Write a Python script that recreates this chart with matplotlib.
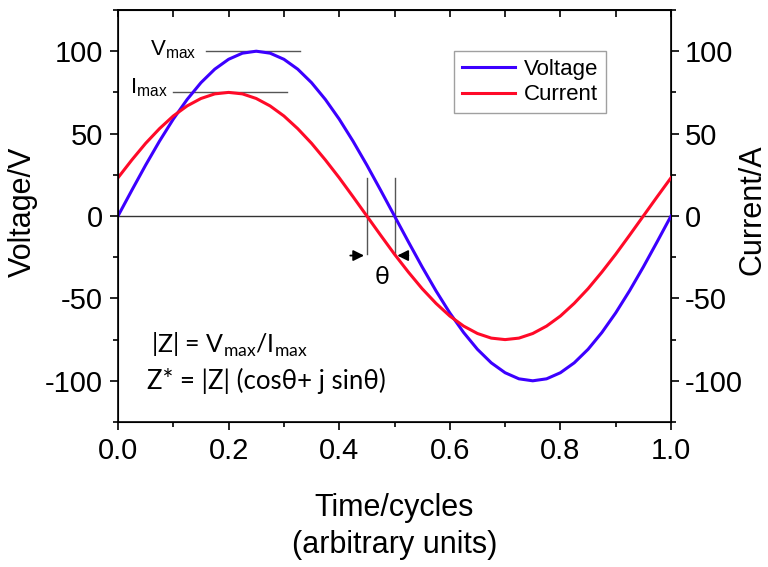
import matplotlib
matplotlib.use('Agg')
import matplotlib.pyplot as plt
from matplotlib.ticker import MultipleLocator

plt.rcParams['font.family'] = ['Liberation Sans', 'DejaVu Sans']
plt.rcParams['axes.unicode_minus'] = False
plt.rcParams['mathtext.fontset'] = 'custom'
plt.rcParams['mathtext.rm'] = 'Liberation Sans'
plt.rcParams['mathtext.sf'] = 'Lato'

# time in cycles, every 0.025
time = [0.0, 0.025, 0.05, 0.075, 0.1, 0.125, 0.15, 0.175, 0.2, 0.225,
        0.25, 0.275, 0.3, 0.325, 0.35, 0.375, 0.4, 0.425, 0.45, 0.475,
        0.5, 0.525, 0.55, 0.575, 0.6, 0.625, 0.65, 0.675, 0.7, 0.725,
        0.75, 0.775, 0.8, 0.825, 0.85, 0.875, 0.9, 0.925, 0.95, 0.975, 1.0]
voltage = [0, 15.6, 30.9, 45.4, 58.8, 70.7, 80.9, 89.1, 95.1, 98.8,
           100, 98.8, 95.1, 89.1, 80.9, 70.7, 58.8, 45.4, 30.9, 15.6,
           0, -15.6, -30.9, -45.4, -58.8, -70.7, -80.9, -89.1, -95.1, -98.8,
           -100, -98.8, -95.1, -89.1, -80.9, -70.7, -58.8, -45.4, -30.9, -15.6, 0]
current = [23.2, 34.0, 44.1, 53.0, 60.7, 66.8, 71.3, 74.1, 75, 74.1,
           71.3, 66.8, 60.7, 53.0, 44.1, 34.0, 23.2, 11.7, 0, -11.7,
           -23.2, -34.0, -44.1, -53.0, -60.7, -66.8, -71.3, -74.1, -75, -74.1,
           -71.3, -66.8, -60.7, -53.0, -44.1, -34.0, -23.2, -11.7, 0, 11.7, 23.2]

v_max = 100
i_max = 75
v_zero = 0.5
i_zero = 0.45

yticks = [-100, -50, 0, 50, 100]
xticks = [0.0, 0.2, 0.4, 0.6, 0.8, 1.0]

blue = '#3c00ff'
red = '#ff0a28'
grey = '#555555'
calibri_like = ['Lato', 'DejaVu Sans']

fig = plt.figure(figsize=(7.68, 5.67), dpi=100)
ax = fig.add_axes([118/768, 1 - 422/567, (671-118)/768, (422-10)/567])

ax.plot(time, voltage, color=blue, lw=2.2, label='Voltage', zorder=3)
ax.plot(time, current, color=red, lw=2.2, label='Current', zorder=3)
ax.axhline(0, color='#333333', lw=1.0, zorder=1)

# max markers
ax.plot([0.16, 0.33], [v_max, v_max], color=grey, lw=1.0)
ax.plot([0.10, 0.305], [i_max, i_max], color=grey, lw=1.0)
ax.text(0.058, v_max + 1, r'V$_{\mathrm{max}}$', fontsize=16, ha='left', va='center')
ax.text(0.022, i_max + 3, r'I$_{\mathrm{max}}$', fontsize=16, ha='left', va='center')

# phase shift marker
ax.plot([i_zero, i_zero], [23, -23], color=grey, lw=1.0)
ax.plot([v_zero, v_zero], [23, -23], color=grey, lw=1.0)
ax.annotate('', xy=(i_zero, -24), xytext=(0.415, -24),
            arrowprops=dict(arrowstyle='-|>', color='black', lw=1.3, mutation_scale=16))
ax.annotate('', xy=(v_zero, -24), xytext=(0.53, -24),
            arrowprops=dict(arrowstyle='-|>', color='black', lw=1.3, mutation_scale=16))
ax.text(0.478, -37, 'θ', fontsize=18, ha='center', va='center', family=calibri_like)

# impedance note
ax.text(0.06, -78, r'|Z| = V$_{\mathsf{max}}$/I$_{\mathsf{max}}$', fontsize=18,
        ha='left', va='center', family=calibri_like)
ax.text(0.053, -100, 'Z* = |Z| (cosθ+ j sinθ)', fontsize=18.5,
        ha='left', va='center', family=calibri_like)

ax.set_xlim(0, 1)
ax.set_ylim(-125, 125)
ax.set_xticks(xticks)
ax.set_xticklabels(['%.1f' % t for t in xticks])
ax.set_yticks(yticks)
ax.xaxis.set_minor_locator(MultipleLocator(0.1))
ax.yaxis.set_minor_locator(MultipleLocator(25))
ax.tick_params(axis='both', which='major', direction='out', length=6, width=1.2,
               labelsize=21, pad=5)
ax.tick_params(axis='both', which='minor', direction='out', length=3.5, width=1.2)
for sp in ax.spines.values():
    sp.set_linewidth(1.2)
ax.set_ylabel('Voltage/V', fontsize=22)
ax.yaxis.set_label_coords(-0.145, 0.51)
ax.set_xlabel('Time/cycles\n(arbitrary units)', fontsize=22, labelpad=20, linespacing=1.3)

# top axis: inward ticks, no labels
top = ax.secondary_xaxis('top')
top.set_xticks(xticks)
top.xaxis.set_minor_locator(MultipleLocator(0.1))
top.tick_params(axis='x', which='both', direction='in', length=5, width=1.2, labeltop=False)
top.spines['top'].set_linewidth(1.2)

ax2 = ax.twinx()
ax2.set_ylim(-125, 125)
ax2.set_yticks(yticks)
ax2.yaxis.set_minor_locator(MultipleLocator(25))
ax2.tick_params(axis='y', which='major', direction='out', length=6, width=1.2,
                labelsize=21, pad=4)
ax2.tick_params(axis='y', which='minor', direction='out', length=3.5, width=1.2)
ax2.set_ylabel('Current/A', fontsize=22)
ax2.yaxis.set_label_coords(1.121, 0.515)

ax.legend(loc='upper left', bbox_to_anchor=(0.608, 0.90), borderaxespad=0, fontsize=16,
          frameon=True, fancybox=False, edgecolor='#888888', handlelength=2.4,
          borderpad=0.35, labelspacing=0.2, handletextpad=0.4)

fig.savefig('out.png', dpi=100)
